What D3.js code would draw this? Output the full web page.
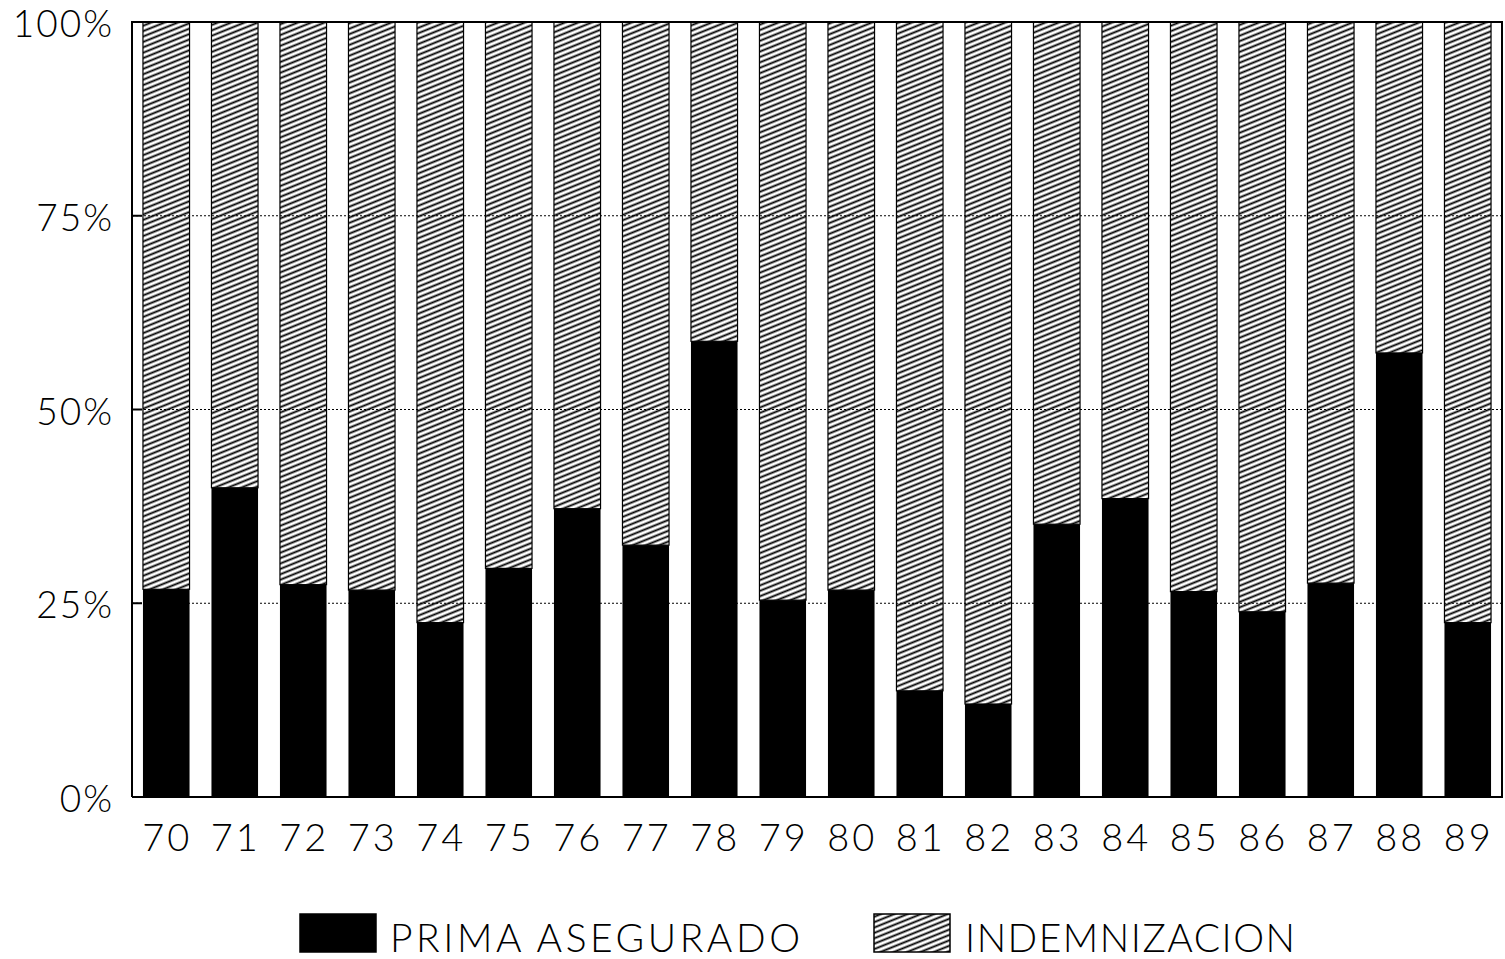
<!DOCTYPE html>
<html>
<head>
<meta charset="utf-8">
<script src="https://cdn.jsdelivr.net/npm/d3@7"></script>
<style>
    body { margin: 0; background: #fff; }
    text { font-family: Lato, 'DejaVu Sans', sans-serif; font-weight: 300; fill: #000; }
</style>
</head>
<body>
<div id="vis"></div>
<script>
'use strict';

//data
var years = ['70', '71', '72', '73', '74', '75', '76', '77', '78', '79',
    '80', '81', '82', '83', '84', '85', '86', '87', '88', '89'];
var prima = [26.8, 39.9, 27.4, 26.7, 22.5, 29.5, 37.2, 32.5, 58.8, 25.4,
    26.7, 13.7, 12.0, 35.2, 38.5, 26.5, 23.9, 27.6, 57.3, 22.5];
var yTicks = [0, 25, 50, 75, 100];
var seriesNames = ['PRIMA ASEGURADO', 'INDEMNIZACION'];

//layout
var width = 1505, height = 959;
var plot = { left: 132, right: 1502, top: 22, bottom: 797 };

var x = d3.scaleBand().domain(years)
    .range([plot.left, plot.right])
    .paddingInner(0.32)
    .paddingOuter(0.16);
var y = d3.scaleLinear().domain([0, 100]).range([plot.bottom, plot.top]);

var svg = d3.select('#vis').append('svg')
    .attr('width', width)
    .attr('height', height);

//hatch pattern
svg.append('defs').append('pattern')
    .attr('id', 'hatch')
    .attr('patternUnits', 'userSpaceOnUse')
    .attr('width', 10)
    .attr('height', 5)
    .attr('patternTransform', 'rotate(-22)')
    .append('line')
    .attr('x1', 0).attr('x2', 10)
    .attr('y1', 2.5).attr('y2', 2.5)
    .style('stroke', '#000')
    .style('stroke-width', 1.9);

//grid
svg.selectAll('.grid')
    .data(yTicks.filter(function (d) { return d > 0 && d < 100; }))
    .enter().append('line')
    .attr('x1', plot.left).attr('x2', plot.right)
    .attr('y1', function (d) { return y(d); })
    .attr('y2', function (d) { return y(d); })
    .style('stroke', '#000')
    .style('stroke-width', 1)
    .style('stroke-dasharray', '2,2');

var rows = years.map(function (yr, i) {
    return { year: yr, prima: prima[i], indem: 100 - prima[i] };
});

//indemnizacion (top, hatched)
svg.selectAll('.bar-indem')
    .data(rows).enter().append('rect')
    .attr('x', function (d) { return x(d.year); })
    .attr('width', x.bandwidth())
    .attr('y', y(100))
    .attr('height', function (d) { return y(d.prima) - y(100); })
    .style('fill', 'url(#hatch)')
    .style('stroke', '#000')
    .style('stroke-width', 1.2);

//prima (bottom, black)
svg.selectAll('.bar-prima')
    .data(rows).enter().append('rect')
    .attr('x', function (d) { return x(d.year); })
    .attr('width', x.bandwidth())
    .attr('y', function (d) { return y(d.prima); })
    .attr('height', function (d) { return y(0) - y(d.prima); })
    .style('fill', '#000');

//frame
svg.append('path')
    .attr('d', 'M' + plot.left + ',' + plot.bottom + 'V' + plot.top + 'H' + plot.right + 'V' + plot.bottom + 'H' + plot.left)
    .style('fill', 'none')
    .style('stroke', '#000')
    .style('stroke-width', 2);

//y ticks
svg.selectAll('.ytick')
    .data(yTicks).enter().append('line')
    .attr('x1', plot.left).attr('x2', plot.left + 10)
    .attr('y1', function (d) { return y(d); })
    .attr('y2', function (d) { return y(d); })
    .style('stroke', '#000')
    .style('stroke-width', 2);
svg.selectAll('.ylabel')
    .data(yTicks).enter().append('text')
    .attr('x', 114)
    .attr('y', function (d) { return y(d) + 15; })
    .attr('text-anchor', 'end')
    .style('font-size', '37px')
    .style('letter-spacing', '2px')
    .text(function (d) { return d + '%'; });

//x labels
svg.selectAll('.xlabel')
    .data(years).enter().append('text')
    .attr('x', function (d) { return x(d) + x.bandwidth() / 2 + 1; })
    .attr('y', 851)
    .attr('text-anchor', 'middle')
    .style('font-size', '38px')
    .style('letter-spacing', '3px')
    .text(function (d) { return d; });

//legend
var legend = [
    { name: seriesNames[0], fill: '#000', bx: 300, tx: 390, len: 410 },
    { name: seriesNames[1], fill: 'url(#hatch)', bx: 874, tx: 965, len: 330 }
];
svg.selectAll('.leg-box')
    .data(legend).enter().append('rect')
    .attr('x', function (d) { return d.bx; })
    .attr('y', 914)
    .attr('width', 76)
    .attr('height', 38)
    .style('fill', function (d) { return d.fill; })
    .style('stroke', '#000')
    .style('stroke-width', 1.5);
svg.selectAll('.leg-text')
    .data(legend).enter().append('text')
    .attr('x', function (d) { return d.tx; })
    .attr('y', 952)
    .attr('textLength', function (d) { return d.len; })
    .attr('lengthAdjust', 'spacing')
    .style('font-size', '39px')
    .text(function (d) { return d.name; });
</script>
</body>
</html>
